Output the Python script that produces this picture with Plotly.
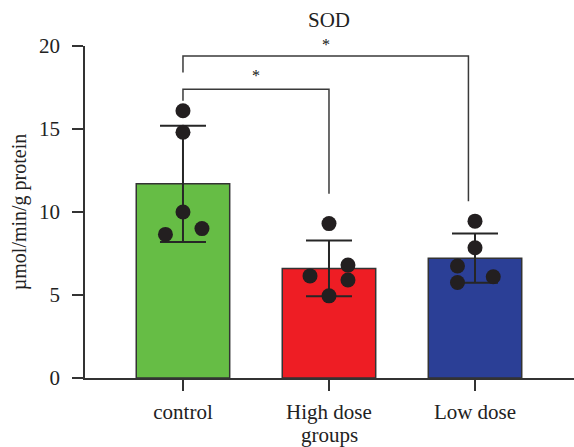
import plotly.graph_objects as go

groups = ["control", "High dose", "Low dose"]
means = [11.7, 6.6, 7.22]
sds = [3.5, 1.68, 1.48]
points = [
    [16.1, 14.8, 10.0, 9.0, 8.65],
    [9.3, 6.8, 6.15, 5.9, 4.95],
    [9.45, 7.85, 6.75, 6.1, 5.75],
]
jitter = [
    [0.0, 0.0, 0.0, 0.13, -0.12],
    [0.0, 0.13, -0.13, 0.13, 0.0],
    [0.0, 0.0, -0.12, 0.125, -0.12],
]
colors = ["#66BD45", "#EE1D24", "#2B3F96"]
ytick_vals = [0, 5, 10, 15, 20]
YMAX = 20
# significance brackets: (from group, to group, left foot, top, right foot, star y)
brackets = [
    (0, 1, 16.7, 17.4, 11.1, 18.2),
    (0, 1.955, 18.4, 19.4, 10.65, 20.1),
]

FONT = "Liberation Serif"
fig = go.Figure()
fig.add_trace(go.Bar(
    x=[0, 1, 2], y=means, width=0.64,
    marker=dict(color=colors, line=dict(color="#333333", width=1.5)),
    error_y=dict(type="data", array=sds, visible=True, color="#262626",
                 thickness=2, width=23),
    showlegend=False,
))
xs, ys = [], []
for i, (pts, jit) in enumerate(zip(points, jitter)):
    for p, j in zip(pts, jit):
        xs.append(i + j)
        ys.append(p)
fig.add_trace(go.Scatter(
    x=xs, y=ys, mode="markers",
    marker=dict(color="#231F20", size=15),
    showlegend=False, cliponaxis=False,
))
for a, b, yl, yt, yr, ys_ in brackets:
    fig.add_trace(go.Scatter(
        x=[a, a, b, b], y=[yl, yt, yt, yr], mode="lines",
        line=dict(color="#3a3a3a", width=1.5), showlegend=False,
        hoverinfo="skip", cliponaxis=False,
    ))
    fig.add_annotation(x=(a + b) / 2, xref="x", y=ys_ / YMAX, yref="paper",
                       text="*", showarrow=False,
                       font=dict(family=FONT, size=16, color="#111111"),
                       yanchor="middle")

fig.update_layout(
    width=574, height=447,
    margin=dict(l=85, r=0, t=46, b=69),
    plot_bgcolor="white", paper_bgcolor="white",
    font=dict(family=FONT, size=21, color="#222222"),
    title=dict(text="SOD", x=(85 + (1 + 0.671) / 3.349 * 489) / 574,
               xanchor="center", y=1 - 20 / 447, yanchor="middle",
               font=dict(family=FONT, size=21, color="#222222")),
    xaxis=dict(range=[-0.671, 2.678], tickvals=[0, 1, 2], ticktext=groups,
               showline=True, linecolor="#333333", linewidth=1.5,
               ticks="outside", ticklen=11, tickwidth=1.5, tickcolor="#333333",
               showgrid=False, zeroline=False, ticklabelstandoff=3,
               title=dict(text="groups", standoff=0,
                          font=dict(family=FONT, size=21))),
    yaxis=dict(range=[0, YMAX], tickvals=ytick_vals,
               showline=True, linecolor="#333333", linewidth=1.5,
               ticks="outside", ticklen=11, tickwidth=1.5, tickcolor="#333333",
               showgrid=False, zeroline=False, ticklabelstandoff=8,
               title=dict(text="µmol/min/g protein", standoff=7,
                          font=dict(family=FONT, size=20))),
)
fig.write_html("out.html")
